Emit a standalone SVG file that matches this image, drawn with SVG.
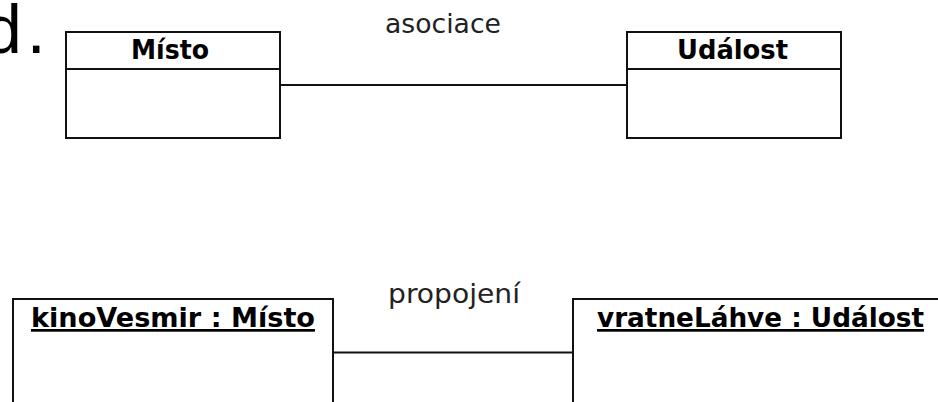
<svg xmlns="http://www.w3.org/2000/svg" width="938" height="402" viewBox="0 0 938 402">
<style>
.box{fill:#fff;stroke:#111;stroke-width:2}
.ln{stroke:#111;stroke-width:2;fill:none}
.cls{font-family:"DejaVu Sans","Liberation Sans",sans-serif;font-weight:bold;font-size:27px;fill:#000}
.obj{font-family:"DejaVu Sans","Liberation Sans",sans-serif;font-weight:bold;font-size:27px;fill:#000;text-decoration:underline}
.lbl{font-family:"DejaVu Sans","Liberation Sans",sans-serif;font-size:27px;fill:#222}
</style>
<rect width="938" height="402" fill="#fff"/>
<text x="-16" y="53" font-family="Liberation Sans, Arial, sans-serif" font-size="68" fill="#000" letter-spacing="5">d.</text>
<g id="connectors">
<line class="ln" x1="280" y1="85" x2="627" y2="85"/>
<line class="ln" x1="333" y1="352.5" x2="573" y2="352.5"/>
<text class="lbl" x="385" y="33" textLength="116" lengthAdjust="spacingAndGlyphs">asociace</text>
<text class="lbl" x="388" y="303" textLength="132" lengthAdjust="spacingAndGlyphs">propojení</text>
</g>
<g id="misto">
<rect class="box" x="66" y="32" width="214" height="106"/>
<line class="ln" x1="66" y1="69" x2="280" y2="69"/>
<text class="cls" x="131" y="59" textLength="78" lengthAdjust="spacingAndGlyphs">Místo</text>
</g>
<g id="udalost">
<rect class="box" x="627" y="32" width="214" height="106"/>
<line class="ln" x1="627" y1="69" x2="841" y2="69"/>
<text class="cls" x="677" y="59" textLength="111" lengthAdjust="spacingAndGlyphs">Událost</text>
</g>
<g id="kinoVesmir">
<rect class="box" x="13" y="299" width="320" height="120"/>
<text class="obj" x="31" y="327" textLength="284" lengthAdjust="spacingAndGlyphs">kinoVesmir : Místo</text>
</g>
<g id="vratneLahve">
<rect class="box" x="573" y="299" width="400" height="120"/>
<text class="obj" x="597" y="327" textLength="327" lengthAdjust="spacingAndGlyphs">vratneLáhve : Událost</text>
</g>
</svg>
